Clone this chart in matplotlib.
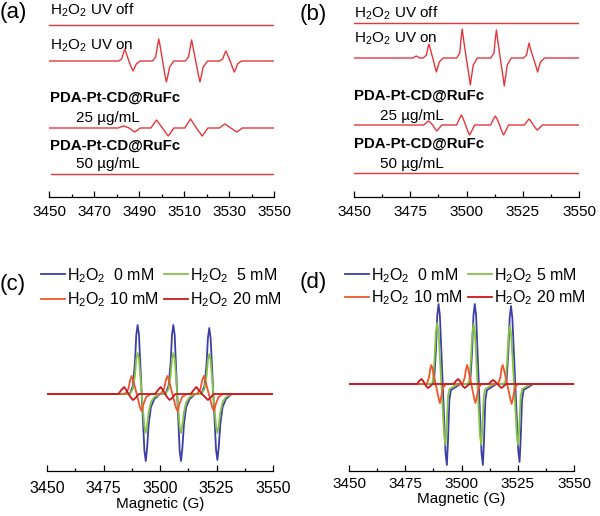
import matplotlib
matplotlib.use("Agg")
import matplotlib.pyplot as plt
from matplotlib.ticker import MultipleLocator

plt.rcParams["font.family"] = ["Liberation Sans", "DejaVu Sans"]
plt.rcParams["mathtext.fontset"] = "custom"
plt.rcParams["mathtext.rm"] = "Liberation Sans"

# Vertices: x in G, y = signal height (px-like units above baseline)

# ---- panel (a) ----
a_off_x = [3450, 3550]
a_off_y = [0, 0]
a_on_x = [3450,
          3481.0, 3482.3, 3483.1, 3483.7, 3484.3, 3485.5, 3486.7, 3487.4, 3488.0, 3488.8, 3490.5,
          3496.0, 3497.4, 3498.2, 3498.8, 3499.4, 3500.5, 3501.6, 3502.2, 3502.8, 3503.6, 3505.5,
          3510.6, 3512.0, 3512.8, 3513.4, 3514.0, 3515.2, 3516.5, 3517.1, 3517.7, 3518.5, 3520.5,
          3525.8, 3527.2, 3528.0, 3528.6, 3529.2, 3530.5, 3531.8, 3532.4, 3533.0, 3533.8, 3535.5,
          3550]
a_on_y = [0,
          0, 2, 8, 12, 8, 0, -7, -10, -7, -3, 0,
          0, 4, 15, 22, 15, 0, -15, -21, -15, -6, 0,
          0, 4, 14, 21, 14, 0, -15, -21, -15, -6, 0,
          0, 2, 7, 10, 7, 0, -8, -11, -8, -3, 0,
          0]
a_25_x = [3450,
          3480.7, 3482.4, 3483.2, 3484.0, 3485.6, 3487.3, 3488.1, 3488.9, 3490.6,
          3495.3, 3497.0, 3497.8, 3498.6, 3500.4, 3502.2, 3503.0, 3503.8, 3505.5,
          3510.4, 3512.1, 3512.9, 3513.7, 3515.5, 3517.3, 3518.1, 3518.9, 3520.6,
          3525.7, 3527.4, 3528.2, 3529.0, 3530.8, 3532.6, 3533.4, 3534.2, 3535.9,
          3550]
a_25_y = [0,
          0, 1.4, 2, 1.4, 0, -2.8, -4, -2.8, 0,
          0, 5.6, 8, 5.6, 0, -5.6, -8, -5.6, 0,
          0, 6.3, 9, 6.3, 0, -5.6, -8, -5.6, 0,
          0, 2.8, 4, 2.8, 0, -2.8, -4, -2.8, 0,
          0]
a_50_x = [3451, 3550]
a_50_y = [0, 0]
a_offsets = [172, 136, 69, 23]

# ---- panel (b) ----
b_off_x = [3450, 3550]
b_off_y = [0, 0]
b_on_x = [3450, 3476.2, 3477.7, 3479.2,
          3480.8, 3482.2, 3482.8, 3483.3, 3483.8, 3485.0, 3486.1, 3486.6, 3487.1, 3487.9, 3489.6,
          3495.6, 3497.0, 3497.6, 3498.1, 3498.6, 3499.9, 3501.2, 3501.7, 3502.2, 3503.0, 3504.8,
          3510.8, 3512.2, 3512.8, 3513.3, 3513.8, 3515.0, 3516.3, 3516.8, 3517.3, 3518.1, 3519.9,
          3525.3, 3526.7, 3527.3, 3527.8, 3528.3, 3529.7, 3531.1, 3531.6, 3532.1, 3532.9, 3534.7,
          3550]
b_on_y = [0, 0, 2, 0,
          0, 3, 10, 14, 10, 0, -10, -14, -10, -4, 0,
          0, 5, 20, 29, 20, 0, -19, -27, -19, -7, 0,
          0, 5, 19, 28, 19, 0, -20, -28, -20, -7, 0,
          0, 3, 10, 15, 10, 0, -10, -14, -10, -4, 0,
          0]
b_25_x = [3450,
          3481.0, 3482.4, 3483.1, 3483.8, 3485.0, 3486.1, 3486.8, 3487.5, 3489.0,
          3495.6, 3497.0, 3497.7, 3498.4, 3499.6, 3500.7, 3501.4, 3502.1, 3503.6,
          3510.7, 3512.1, 3512.8, 3513.5, 3514.7, 3515.8, 3516.5, 3517.2, 3518.7,
          3525.7, 3527.1, 3527.8, 3528.5, 3529.7, 3530.8, 3531.5, 3532.2, 3533.7,
          3550]
b_25_y = [0,
          0, 2.8, 4, 2.8, 0, -4.2, -6, -4.2, 0,
          0, 7, 10, 7, 0, -7, -10, -7, 0,
          0, 6.3, 9, 6.3, 0, -7, -10, -7, 0,
          0, 4.2, 6, 4.2, 0, -3.5, -5, -3.5, 0,
          0]
b_50_x = [3450, 3550]
b_50_y = [0, 0]
b_offsets = [174, 139, 72, 24]

# ---- panel (c) ----
c_blue_x = [3450,
            3486.6, 3488.0, 3488.9, 3489.5, 3490.1, 3490.7, 3491.9, 3493.1, 3493.7, 3494.3, 3495.0, 3496.0, 3497.5, 3500.0,
            3502.4, 3503.8, 3504.7, 3505.3, 3505.9, 3506.5, 3507.6, 3508.7, 3509.3, 3509.9, 3510.6, 3511.6, 3513.1, 3515.6,
            3518.3, 3519.7, 3520.6, 3521.2, 3521.8, 3522.4, 3523.6, 3524.8, 3525.4, 3526.0, 3526.7, 3527.7, 3529.2, 3531.7,
            3550]
c_blue_y = [0,
            0, 8, 31, 59, 69, 59, 0, -57, -67, -54, -30, -13, -5, 0,
            0, 8, 31, 59, 69, 59, 0, -57, -67, -54, -30, -13, -5, 0,
            0, 8, 30, 56, 66, 56, 0, -56, -66, -53, -30, -13, -5, 0,
            0]
c_green_y = [0,
             0, 5, 18, 35, 41, 35, 0, -33, -39, -31, -18, -8, -3, 0,
             0, 5, 18, 35, 41, 35, 0, -33, -39, -31, -18, -8, -3, 0,
             0, 5, 18, 34, 40, 34, 0, -33, -39, -31, -18, -8, -3, 0,
             0]
c_orange_x = [3450,
              3484.5, 3486.0, 3486.8, 3487.5, 3488.2, 3489.7, 3491.2, 3491.9, 3492.7, 3493.9, 3495.9,
              3500.3, 3501.8, 3502.6, 3503.3, 3504.0, 3505.5, 3507.1, 3507.8, 3508.6, 3509.8, 3511.8,
              3516.4, 3517.9, 3518.7, 3519.4, 3520.1, 3521.6, 3523.2, 3523.9, 3524.7, 3525.9, 3527.9,
              3550]
c_orange_y = [0,
              0, 5, 14, 18, 13, 0, -14, -17, -10, -3, 0,
              0, 5, 14, 18, 13, 0, -14, -17, -10, -3, 0,
              0, 5, 14, 18, 13, 0, -14, -17, -10, -3, 0,
              0]
c_red_x = [3450,
           3481.6, 3482.9, 3484.1, 3485.1, 3486.1, 3487.1, 3488.1, 3489.3, 3490.6,
           3497.8, 3499.1, 3500.3, 3501.3, 3502.3, 3503.3, 3504.3, 3505.5, 3506.8,
           3513.6, 3514.9, 3516.1, 3517.1, 3518.6, 3520.2, 3521.2, 3522.4, 3523.7,
           3550]
c_red_y = [0,
           0, 4, 7, 4, 0, -3.6, -6, -3.6, 0,
           0, 4, 7, 4, 0, -3.6, -6, -3.6, 0,
           0, 4, 7, 4, 0, -3.6, -6, -3.6, 0,
           0]

# ---- panel (d) ----
d_blue_x = [3450,
            3486.8, 3487.8, 3488.6, 3489.2, 3489.8, 3490.4, 3491.65, 3492.9, 3493.5, 3494.0, 3494.6, 3495.3, 3497.5, 3499.5,
            3502.9, 3503.9, 3504.7, 3505.3, 3505.9, 3506.5, 3507.7, 3508.9, 3509.5, 3510.0, 3510.6, 3511.3, 3513.5, 3515.5,
            3519.0, 3520.0, 3520.8, 3521.4, 3522.0, 3522.6, 3523.9, 3525.2, 3525.8, 3526.3, 3526.9, 3527.6, 3529.8, 3531.8,
            3550]
d_blue_y = [0,
            0, 3, 32, 68, 80, 68, 0, -69, -81, -57, -16, -6, -3, 0,
            0, 3, 32, 68, 80, 68, 0, -69, -81, -57, -16, -6, -3, 0,
            0, 3, 31, 66, 78, 66, 0, -66, -78, -55, -16, -6, -3, 0,
            0]
d_green_x = [3450,
             3486.2, 3487.2, 3488.0, 3488.6, 3489.2, 3489.8, 3491.05, 3492.3, 3492.9, 3493.4, 3494.0, 3494.7, 3496.9, 3498.9,
             3502.4, 3503.4, 3504.2, 3504.8, 3505.4, 3506.0, 3507.1, 3508.2, 3508.8, 3509.3, 3509.9, 3510.6, 3512.8, 3514.8,
             3518.5, 3519.5, 3520.3, 3520.9, 3521.5, 3522.1, 3523.35, 3524.6, 3525.2, 3525.7, 3526.3, 3527.0, 3529.2, 3531.2,
             3550]
d_green_y = [0,
             0, 2, 24, 52, 61, 52, 0, -52, -61, -43, -12, -5, -2, 0,
             0, 2, 24, 51, 60, 51, 0, -52, -61, -43, -12, -5, -2, 0,
             0, 2, 23, 49, 58, 49, 0, -52, -61, -43, -12, -5, -2, 0,
             0]
d_orange_x = [3450,
              3484.6, 3485.6, 3486.1, 3486.6, 3487.1, 3488.5, 3489.9, 3490.4, 3491.0, 3491.8, 3493.0,
              3500.5, 3501.5, 3502.0, 3502.5, 3503.0, 3504.35, 3505.7, 3506.2, 3506.8, 3507.6, 3508.8,
              3516.3, 3517.3, 3517.8, 3518.3, 3518.8, 3520.3, 3521.8, 3522.3, 3522.9, 3523.7, 3524.9,
              3550]
d_orange_y = [0,
              0, 7, 15, 19, 15, 0, -15, -19, -13, -4, 0,
              0, 7, 15, 19, 15, 0, -15, -19, -13, -4, 0,
              0, 7, 15, 19, 15, 0, -16, -20, -14, -4, 0,
              0]
d_red_x = [3450,
           3480.2, 3481.2, 3482.2, 3483.0, 3483.7, 3484.4, 3485.2, 3486.2, 3487.2,
           3496.5, 3497.5, 3498.5, 3499.3, 3500.0, 3500.7, 3501.5, 3502.5, 3503.5,
           3512.1, 3513.1, 3514.1, 3514.9, 3516.0, 3517.0, 3517.8, 3518.8, 3519.8,
           3550]
d_red_y = [0,
           0, 3, 5, 3, 0, -2.4, -4, -2, 0,
           0, 3, 5, 3, 0, -2.4, -4, -2, 0,
           0, 2.4, 4, 2.4, 0, -2.4, -4, -2, 0,
           0]

legend_labels_c = [r"$\mathregular{H_2O_2}$  0 mM", r"$\mathregular{H_2O_2}$ 10 mM",
                   r"$\mathregular{H_2O_2}$  5 mM", r"$\mathregular{H_2O_2}$ 20 mM"]
legend_labels_d = [r"$\mathregular{H_2O_2}$  0 mM", r"$\mathregular{H_2O_2}$ 10 mM",
                   r"$\mathregular{H_2O_2}$ 5 mM", r"$\mathregular{H_2O_2}$ 20 mM"]

W, H = 600, 516
fig = plt.figure(figsize=(6, 5.16), dpi=100)


def px_text(x, y, s, **kw):
    # texto en coordenadas de pixel (origen arriba a la izquierda)
    fig.text(x / W, 1 - y / H, s, va="baseline", ha="left", **kw)


def make_ax(left, axis_y, width, height, ticks, minor, pad, tsize):
    ax = fig.add_axes([left / W, 1 - axis_y / H, width / W, height / H])
    ax.set_xlim(3450, 3550)
    ax.set_ylim(0, height)
    for s in ["left", "right", "top"]:
        ax.spines[s].set_visible(False)
    ax.spines["bottom"].set_linewidth(0.9)
    ax.set_yticks([])
    ax.set_xticks(ticks)
    ax.xaxis.set_minor_locator(MultipleLocator(minor))
    ax.tick_params(axis="x", which="major", direction="in", length=4, width=0.9,
                   pad=pad, labelsize=tsize)
    ax.tick_params(axis="x", which="minor", direction="in", length=2.5, width=0.9)
    ax.patch.set_alpha(0)
    return ax


red_ab = "#e5373b"
label_fs = 11
bold_fs = 10.8
panel_fs = 16

# (a)
ax_a = make_ax(49, 197, 225, 197, range(3450, 3551, 20), 10, 6, 11)
for (xs, ys), off in zip([(a_off_x, a_off_y), (a_on_x, a_on_y), (a_25_x, a_25_y), (a_50_x, a_50_y)], a_offsets):
    ax_a.plot(xs, [v + off for v in ys], color=red_ab, lw=1.0)
px_text(0, 18, "(a)", fontsize=panel_fs)
px_text(50, 15, r"$\mathregular{H_2O_2}$ UV off", fontsize=label_fs)
px_text(50, 50, r"$\mathregular{H_2O_2}$ UV on", fontsize=label_fs)
px_text(50, 102, "PDA-Pt-CD@RuFc", fontsize=bold_fs, fontweight="bold")
px_text(76, 122, "25 µg/mL", fontsize=label_fs)
px_text(50, 150, "PDA-Pt-CD@RuFc", fontsize=bold_fs, fontweight="bold")
px_text(76, 168, "50 µg/mL", fontsize=label_fs)

# (b)
ax_b = make_ax(354, 197, 225, 197, range(3450, 3551, 25), 12.5, 6, 11)
for (xs, ys), off in zip([(b_off_x, b_off_y), (b_on_x, b_on_y), (b_25_x, b_25_y), (b_50_x, b_50_y)], b_offsets):
    ax_b.plot(xs, [v + off for v in ys], color=red_ab, lw=1.0)
px_text(300, 20, "(b)", fontsize=panel_fs)
px_text(354, 18, r"$\mathregular{H_2O_2}$ UV off", fontsize=label_fs)
px_text(354, 43, r"$\mathregular{H_2O_2}$ UV on", fontsize=label_fs)
px_text(354, 100, "PDA-Pt-CD@RuFc", fontsize=bold_fs, fontweight="bold")
px_text(380, 120, "25 µg/mL", fontsize=label_fs)
px_text(354, 148, "PDA-Pt-CD@RuFc", fontsize=bold_fs, fontweight="bold")
px_text(380, 168, "50 µg/mL", fontsize=label_fs)

colors = {"blue": "#3d3fa6", "green": "#86c343", "orange": "#f0562a", "red": "#c8171e"}
leg_kw = dict(ncol=2, loc="upper left", bbox_transform=fig.transFigure, frameon=False,
              fontsize=11.5, handlelength=1.5, handletextpad=0.15, columnspacing=0.3,
              borderpad=0, borderaxespad=0)

# (c)
ax_c = make_ax(47, 471, 226, 211, range(3450, 3551, 25), 12.5, 7, 11.5)
base_c = 77
lb, = ax_c.plot(c_blue_x, [v + base_c for v in c_blue_y], color=colors["blue"], lw=1.3)
lg, = ax_c.plot(c_blue_x, [v + base_c for v in c_green_y], color=colors["green"], lw=1.3)
lo, = ax_c.plot(c_orange_x, [v + base_c for v in c_orange_y], color=colors["orange"], lw=1.3)
lr, = ax_c.plot(c_red_x, [v + base_c for v in c_red_y], color=colors["red"], lw=1.3)
ax_c.legend([lb, lo, lg, lr], legend_labels_c, bbox_to_anchor=(41 / W, 1 - 266 / H),
            labelspacing=0.35, **leg_kw)
ax_c.set_xlabel("Magnetic (G)", fontsize=11, labelpad=1)
px_text(0, 290, "(c)", fontsize=panel_fs)

# (d)
ax_d = make_ax(349, 471, 225, 211, range(3450, 3551, 25), 12.5, 4, 11)
base_d = 87
lb, = ax_d.plot(d_blue_x, [v + base_d for v in d_blue_y], color=colors["blue"], lw=1.3)
lg, = ax_d.plot(d_green_x, [v + base_d for v in d_green_y], color=colors["green"], lw=1.3)
lo, = ax_d.plot(d_orange_x, [v + base_d for v in d_orange_y], color=colors["orange"], lw=1.3)
lr, = ax_d.plot(d_red_x, [v + base_d for v in d_red_y], color=colors["red"], lw=1.3)
ax_d.legend([lb, lo, lg, lr], legend_labels_d, bbox_to_anchor=(345 / W, 1 - 266 / H),
            labelspacing=0.25, **leg_kw)
ax_d.set_xlabel("Magnetic (G)", fontsize=11, labelpad=1)
px_text(300, 288, "(d)", fontsize=panel_fs)

fig.savefig("out.png", dpi=100)
